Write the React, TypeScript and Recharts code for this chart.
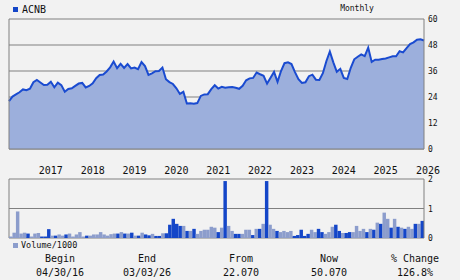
import {
  Area,
  AreaChart,
  Bar,
  BarChart,
  CartesianGrid,
  Cell,
  ReferenceLine,
  XAxis,
  YAxis,
} from "recharts";

// monthly closes, 04/2016 .. 03/2026
const prices = [
  22.07, 24.2, 25.2, 26.2, 27.5, 27.1, 27.8, 30.8, 31.9, 30.7,
  29.5, 29.6, 31.0, 28.5, 30.6, 29.5, 26.4, 27.7, 28.0, 29.1,
  30.2, 30.5, 28.4, 29.1, 30.3, 32.7, 34.2, 34.4, 35.8, 37.7,
  40.4, 37.3, 39.3, 37.4, 39.2, 37.2, 37.6, 36.8, 40.1, 38.3,
  34.2, 34.9, 35.9, 36.0, 37.6, 32.2, 30.9, 30.0, 28.0, 25.4,
  26.4, 21.0, 21.1, 20.9, 21.2, 24.5, 25.2, 25.3, 27.6, 29.4,
  27.9, 28.7, 28.3, 28.5, 28.6, 28.3, 27.8, 29.2, 31.7, 32.6,
  32.8, 35.3, 34.5, 33.8, 30.2, 32.9, 35.6, 31.0, 36.0, 39.6,
  40.0, 39.2, 35.5, 32.2, 30.5, 30.8, 33.6, 34.3, 32.0, 31.9,
  35.0, 40.5, 45.0, 40.0, 35.6, 37.0, 32.8, 32.3, 37.5, 41.4,
  42.6, 43.7, 42.9, 46.8, 40.2, 41.2, 41.2, 41.5, 41.8, 42.3,
  42.8, 42.8, 45.1, 44.6, 46.6, 48.4, 49.2, 50.4, 50.6, 50.07,
];

// volume in thousands
const volumes = [
  0.05, 0.18, 0.9, 0.15, 0.18, 0.15, 0.05, 0.15, 0.17, 0.05,
  0.05, 0.3, 0.08, 0.08, 0.12, 0.08, 0.12, 0.15, 0.05, 0.12,
  0.2, 0.05, 0.08, 0.08, 0.12, 0.12, 0.2, 0.12, 0.08, 0.13,
  0.15, 0.15, 0.2, 0.15, 0.15, 0.18, 0.08, 0.08, 0.18, 0.12,
  0.09, 0.14, 0.07, 0.07, 0.16, 0.16, 0.45, 0.65, 0.48, 0.41,
  0.41, 0.24, 0.24, 0.31, 0.14, 0.24, 0.28, 0.28, 0.38, 0.35,
  0.2, 0.35, 1.93, 0.41, 0.24, 0.14, 0.14, 0.14, 0.28, 0.28,
  0.1, 0.31, 0.31, 0.48, 1.93, 0.45, 0.31, 0.24, 0.2, 0.24,
  0.2, 0.24, 0.07, 0.1, 0.28, 0.07, 0.14, 0.28, 0.2, 0.31,
  0.2, 0.14, 0.2, 0.38, 0.45, 0.24, 0.17, 0.17, 0.2, 0.2,
  0.41, 0.24, 0.31, 0.2, 0.31, 0.28, 0.52, 0.48, 0.86, 0.65,
  0.35, 0.65, 0.38, 0.35, 0.31, 0.38, 0.31, 0.48, 0.48, 0.58,
];

// 1 = up month (dark bar), 0 = down month
const volUp = [
  0, 0, 0, 0, 0, 1, 0, 0, 0, 1,
  1, 1, 0, 1, 0, 0, 1, 0, 0, 0,
  0, 0, 1, 0, 0, 0, 0, 0, 0, 0,
  0, 1, 0, 1, 0, 1, 0, 1, 0, 1,
  1, 0, 1, 1, 0, 1, 1, 1, 1, 1,
  0, 1, 0, 1, 0, 0, 0, 0, 0, 0,
  1, 0, 1, 0, 0, 1, 1, 0, 0, 0,
  1, 0, 1, 0, 1, 0, 0, 1, 0, 0,
  0, 0, 1, 1, 1, 1, 1, 0, 0, 1,
  1, 0, 0, 0, 1, 1, 0, 1, 1, 0,
  0, 0, 0, 1, 0, 1, 0, 1, 0, 0,
  1, 0, 1, 0, 1, 0, 0, 1, 0, 1,
];

const yearTicks = [12, 24, 36, 48, 60, 72, 84, 96, 108, 119];
const yearLabels = ["2017", "2018", "2019", "2020", "2021", "2022", "2023", "2024", "2025", "2026"];
const priceTicks = [0, 12, 24, 36, 48, 60];
const volTicks = [0, 1, 2];

const footer = [
  { head: "Begin", value: "04/30/16", x: 60 },
  { head: "End", value: "03/03/26", x: 147 },
  { head: "From", value: "22.070", x: 241 },
  { head: "Now", value: "50.070", x: 329 },
  { head: "% Change", value: "126.8%", x: 415 },
];

const priceData = prices.map((price, i) => ({ i, price }));
const volData = volumes.map((vol, i) => ({ i, vol, up: volUp[i] }));

const GRID = "#808080";
const DARK = "#1446c8";
const LIGHT = "#8c9dcc";
const MONO = "'DejaVu Sans Mono', monospace";
const BAND = 415 / volumes.length;

function Txt({ x, y, size, children, align = "center" }: any) {
  const tx = align === "center" ? "-50%" : "0";
  return (
    <div
      style={{
        position: "absolute",
        left: x,
        top: y,
        transform: `translate(${tx}, -50%)`,
        fontFamily: MONO,
        fontSize: size,
        lineHeight: 1,
        whiteSpace: "nowrap",
        color: "#111",
      }}
    >
      {children}
    </div>
  );
}

const rightTick = (props: any) => (
  <text x={424 + 4} y={props.y + 3} fontFamily={MONO} fontSize={8} fill="#111">
    {props.payload.value}
  </text>
);

const yearTick = (props: any) => {
  const k = yearTicks.indexOf(props.payload.value);
  return (
    <text x={props.x + (k === yearTicks.length - 1 ? 4 : 0)} y={174} textAnchor="middle" fontFamily={MONO} fontSize={10} fill="#111">
      {yearLabels[k]}
    </text>
  );
};

// fill the whole month band, no sub-pixel gaps
const volBar = (p: any) => (
  <rect x={p.x} y={p.y} width={BAND} height={p.height} fill={p.fill} />
);

export default function App() {
  return (
    <div
      style={{
        position: "absolute",
        left: 0,
        top: 0,
        width: 460,
        height: 280,
        background: "#f2f2f2",
        overflow: "hidden",
      }}
    >
      <div style={{ position: "absolute", left: 13, top: 7, width: 5, height: 5, background: DARK }} />
      <Txt x={22} y={10} size={10} align="left">ACNB</Txt>
      <Txt x={357} y={9} size={8}>Monthly</Txt>

      <div style={{ position: "absolute", left: 0, top: 0 }}>
        <AreaChart width={460} height={180} data={priceData} margin={{ top: 19, right: 0, bottom: 0, left: 9 }}>
          <CartesianGrid vertical={false} stroke={GRID} strokeWidth={1} />
          <XAxis
            dataKey="i"
            type="number"
            domain={[0, 119]}
            ticks={yearTicks}
            height={31}
            axisLine={{ stroke: GRID }}
            tickLine={false}
            tick={yearTick}
            interval={0}
          />
          <YAxis
            orientation="right"
            width={36}
            domain={[0, 60]}
            ticks={priceTicks}
            axisLine={{ stroke: GRID }}
            tickLine={false}
            tick={rightTick}
            interval={0}
          />
          <Area
            type="linear"
            dataKey="price"
            stroke="#1a4bd0"
            strokeWidth={2}
            fill="#9cafdc"
            fillOpacity={1}
            isAnimationActive={false}
            dot={false}
          />
          <ReferenceLine x={0} stroke={GRID} />
        </AreaChart>
      </div>

      <div style={{ position: "absolute", left: 0, top: 170 }}>
        <BarChart
          width={460}
          height={80}
          data={volData}
          barCategoryGap={0}
          margin={{ top: 9, right: 0, bottom: 12, left: 9 }}
        >
          <CartesianGrid vertical horizontal stroke={GRID} verticalPoints={[9]} />
          <XAxis dataKey="i" hide />
          <YAxis
            orientation="right"
            width={36}
            domain={[0, 2]}
            ticks={volTicks}
            axisLine={{ stroke: GRID }}
            tickLine={false}
            tick={rightTick}
            interval={0}
          />
          <Bar dataKey="vol" isAnimationActive={false} shape={volBar}>
            {volData.map((d) => (
              <Cell key={d.i} fill={d.up ? DARK : LIGHT} />
            ))}
          </Bar>
        </BarChart>
      </div>

      <div style={{ position: "absolute", left: 13, top: 243, width: 5, height: 5, background: LIGHT }} />
      <Txt x={21} y={245} size={8.5} align="left">Volume/1000</Txt>

      {footer.map((f) => (
        <div key={f.head}>
          <Txt x={f.x} y={259} size={10}>{f.head}</Txt>
          <Txt x={f.x} y={273} size={10}>{f.value}</Txt>
        </div>
      ))}
    </div>
  );
}
